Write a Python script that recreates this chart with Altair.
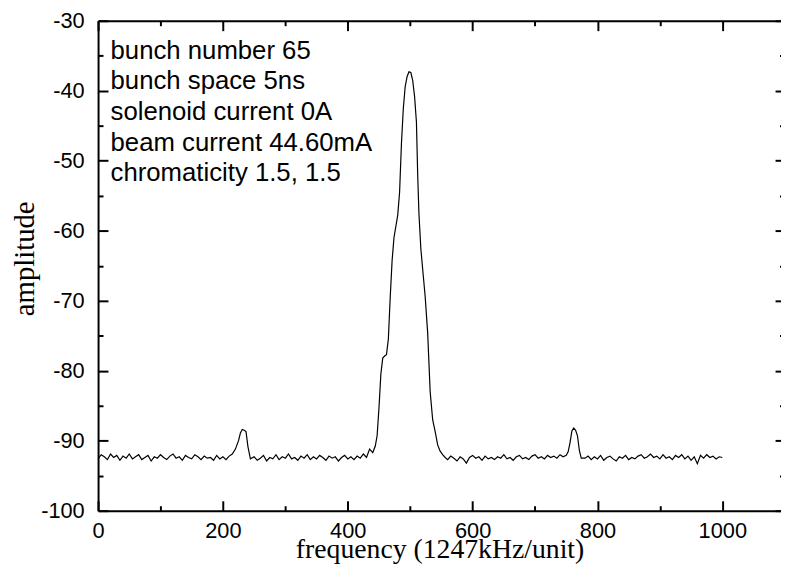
import altair as alt
import pandas as pd

# ---------------- data ----------------
noise_a_x = list(range(0, 210, 5))          # 0 .. 205
noise_a = [-92.6, -92.0, -92.3, -92.7, -91.9, -92.4, -92.1, -92.8, -92.2, -92.5,
           -91.9, -92.6, -92.3, -92.0, -92.7, -92.4, -92.1, -92.9, -92.3, -92.5,
           -92.0, -92.4, -92.7, -92.2, -91.9, -92.5, -92.3, -92.8, -92.1, -92.4,
           -92.6, -92.0, -92.3, -92.7, -92.2, -92.5, -92.4, -92.8, -92.1, -92.6,
           -92.3, -92.7]

side1_x = [210, 215, 220, 225, 228, 231, 234, 237, 240, 244]
side1 = [-92.2, -91.9, -91.2, -90.0, -88.9, -88.4, -88.5, -88.7, -90.8, -92.6]

noise_b_x = list(range(250, 435, 5))        # 250 .. 430
noise_b = [-92.3, -92.8, -92.5, -92.1, -92.9, -92.4, -92.6, -92.0, -92.7, -92.3,
           -92.5, -91.9, -92.6, -92.4, -92.8, -92.2, -92.5, -92.0, -92.7, -92.3,
           -92.6, -92.1, -92.4, -92.8, -92.2, -92.5, -92.3, -92.9, -92.4, -92.1,
           -92.6, -92.3, -92.7, -92.2, -92.5, -91.9, -92.4]

peak_x = [435, 440, 444, 447, 450, 453, 456, 459, 462, 465, 468, 471, 474, 477,
          480, 483, 486, 489, 492, 495, 498, 501, 504, 507, 510, 512, 514, 517,
          520, 524, 528, 532, 536, 540, 544, 548, 552, 556]
peak = [-91.2, -91.7, -90.8, -89.3, -85.3, -80.5, -78.2, -77.9, -77.7, -75.5,
        -69.5, -64.3, -61.0, -59.4, -57.8, -54.5, -47.5, -42.5, -39.4, -38.0,
        -37.3, -37.4, -38.5, -40.8, -44.5, -52.0, -57.5, -62.5, -65.5, -69.4,
        -74.6, -83.0, -87.0, -88.7, -90.6, -91.5, -92.0, -92.4]

noise_c_x = list(range(560, 755, 5))        # 560 .. 750
noise_c = [-92.7, -92.2, -92.5, -92.9, -92.3, -92.6, -93.2, -92.4, -92.1, -92.5,
           -92.3, -92.8, -92.2, -92.6, -92.4, -92.7, -92.3, -92.5, -92.0, -92.6,
           -92.4, -92.8, -92.3, -92.1, -92.6, -92.4, -92.7, -92.2, -92.0, -92.5,
           -92.3, -92.6, -92.1, -92.4, -92.2, -92.5, -92.0, -92.3, -92.1]

side2_x = [753, 756, 759, 762, 765, 768, 771, 774]
side2 = [-91.6, -90.3, -88.6, -88.2, -88.5, -89.3, -91.4, -92.5]

noise_d_x = list(range(780, 1005, 5))       # 780 .. 1000
noise_d = [-92.5, -92.2, -92.7, -92.3, -92.6, -92.1, -92.8, -92.4, -92.2, -92.6,
           -92.9, -92.3, -92.5, -92.1, -92.7, -92.4, -92.6, -92.2, -92.0, -92.5,
           -92.3, -91.9, -92.4, -92.2, -92.6, -92.0, -92.5, -92.3, -92.7, -92.1,
           -92.4, -92.0, -92.6, -92.2, -92.8, -92.3, -93.3, -92.1, -92.5, -92.0,
           -92.4, -92.2, -92.6, -92.3, -92.4]

freq = noise_a_x + side1_x + noise_b_x + peak_x + noise_c_x + side2_x + noise_d_x
amp = noise_a + side1 + noise_b + peak + noise_c + side2 + noise_d

note_lines = ["bunch number 65", "bunch space 5ns", "solenoid current 0A",
              "beam current 44.60mA", "chromaticity 1.5, 1.5"]
note_x = [20, 20, 20, 20, 20]
note_y = [-35.4, -39.8, -44.15, -48.55, -52.9]

x_major = [0, 200, 400, 600, 800, 1000]
x_minor = [100, 300, 500, 700, 900]
y_major = [-100, -90, -80, -70, -60, -50, -40, -30]
y_minor = [-95, -85, -75, -65, -55, -45, -35]

df = pd.DataFrame({"freq": freq, "amp": amp})
notes = pd.DataFrame({"label": note_lines, "tx": note_x, "ty": note_y})

# the picture's right edge cuts the frame just before x = 1100
xscale = alt.Scale(domain=[0, 1094], nice=False, zero=False)
yscale = alt.Scale(domain=[-100, -30], nice=False, zero=False)


def axis(orient, values, size, labels=False, domain=True, tfs=28, **kw):
    return alt.Axis(orient=orient, values=values,
                    tickSize=alt.ExprRef(expr=str(-size)),
                    labels=labels, domain=domain, grid=False,
                    domainColor="black", domainWidth=2,
                    tickColor="black", tickWidth=2,
                    labelFont="Liberation Sans", labelFontSize=22,
                    labelColor="black", labelFlush=False, labelOverlap=False,
                    labelExpr="'' + datum.value",
                    titleFont="Liberation Serif", titleFontSize=tfs,
                    titleFontWeight="normal", titleColor="black", **kw)


def layer(xax, yax, opacity):
    return alt.Chart(df).mark_line(color="black", strokeWidth=1.2,
                                   opacity=opacity).encode(
        x=alt.X("freq:Q", scale=xscale, axis=xax),
        y=alt.Y("amp:Q", scale=yscale, axis=yax),
    )


l1 = layer(
    axis("bottom", x_major, 10, labels=True, labelPadding=20,
         title="frequency (1247kHz/unit)", titleX=345, titleY=47,
         titleBaseline="alphabetic", titleAlign="center"),
    axis("left", y_major, 10, labels=True, labelPadding=24, tfs=29,
         title="amplitude", titleX=-65, titleY=240, titleAngle=270,
         titleBaseline="alphabetic", titleAlign="center"),
    1,
)
l2 = layer(axis("bottom", x_minor, 5, domain=False, title=None),
           axis("left", y_minor, 5, domain=False, title=None), 0)
l3 = layer(axis("top", x_major, 10, title=None),
           axis("right", y_major, 6, domain=False, title=None), 0)
l4 = layer(axis("top", x_minor, 5, domain=False, title=None),
           axis("right", y_minor, 1.5, domain=False, title=None), 0)

text = alt.Chart(notes).mark_text(
    align="left", baseline="alphabetic", font="Liberation Sans",
    fontSize=26, color="black"
).encode(
    x=alt.X("tx:Q", scale=xscale, axis=None),
    y=alt.Y("ty:Q", scale=yscale, axis=None),
    text="label:N",
)

chart = alt.layer(l1, l2, l3, l4, text).resolve_axis(
    x="independent", y="independent"
).properties(
    width=690, height=495,
    autosize=alt.AutoSizeParams(type="none"),
    padding={"left": 91, "top": 10, "right": 0, "bottom": 52},
).configure_view(stroke=None).configure(background="white")

chart.save("out.html", embed_options={"renderer": "svg", "actions": False})
